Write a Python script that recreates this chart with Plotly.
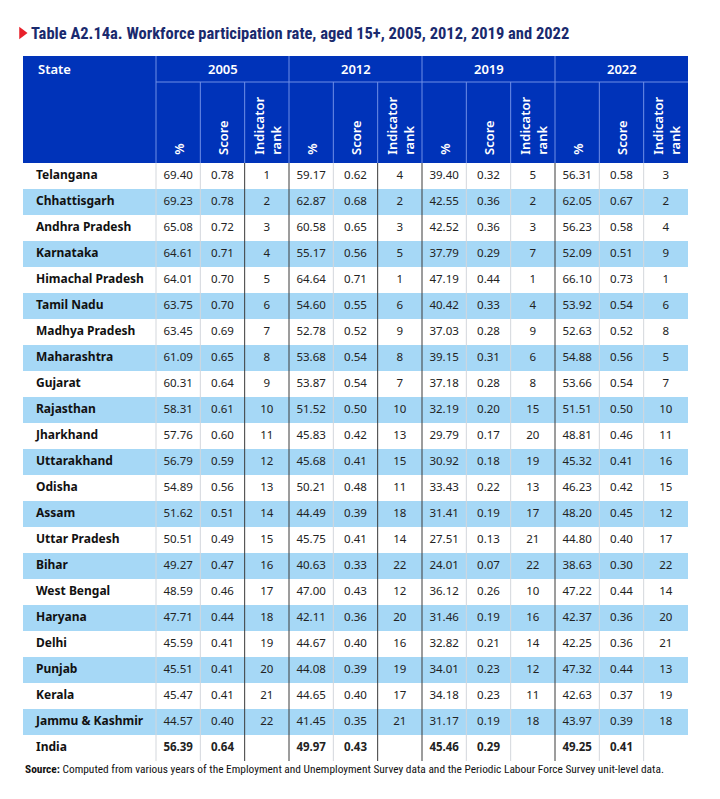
import plotly.graph_objects as go

states = ["Telangana", "Chhattisgarh", "Andhra Pradesh", "Karnataka", "Himachal Pradesh",
          "Tamil Nadu", "Madhya Pradesh", "Maharashtra", "Gujarat", "Rajasthan", "Jharkhand",
          "Uttarakhand", "Odisha", "Assam", "Uttar Pradesh", "Bihar", "West Bengal", "Haryana",
          "Delhi", "Punjab", "Kerala", "Jammu & Kashmir", "India"]

years = ["2005", "2012", "2019", "2022"]

pct_2005 = [69.40, 69.23, 65.08, 64.61, 64.01, 63.75, 63.45, 61.09, 60.31, 58.31, 57.76,
            56.79, 54.89, 51.62, 50.51, 49.27, 48.59, 47.71, 45.59, 45.51, 45.47, 44.57, 56.39]
score_2005 = [0.78, 0.78, 0.72, 0.71, 0.70, 0.70, 0.69, 0.65, 0.64, 0.61, 0.60,
              0.59, 0.56, 0.51, 0.49, 0.47, 0.46, 0.44, 0.41, 0.41, 0.41, 0.40, 0.64]
rank_2005 = [1, 2, 3, 4, 5, 6, 7, 8, 9, 10, 11, 12, 13, 14, 15, 16, 17, 18, 19, 20, 21, 22, None]

pct_2012 = [59.17, 62.87, 60.58, 55.17, 64.64, 54.60, 52.78, 53.68, 53.87, 51.52, 45.83,
            45.68, 50.21, 44.49, 45.75, 40.63, 47.00, 42.11, 44.67, 44.08, 44.65, 41.45, 49.97]
score_2012 = [0.62, 0.68, 0.65, 0.56, 0.71, 0.55, 0.52, 0.54, 0.54, 0.50, 0.42,
              0.41, 0.48, 0.39, 0.41, 0.33, 0.43, 0.36, 0.40, 0.39, 0.40, 0.35, 0.43]
rank_2012 = [4, 2, 3, 5, 1, 6, 9, 8, 7, 10, 13, 15, 11, 18, 14, 22, 12, 20, 16, 19, 17, 21, None]

pct_2019 = [39.40, 42.55, 42.52, 37.79, 47.19, 40.42, 37.03, 39.15, 37.18, 32.19, 29.79,
            30.92, 33.43, 31.41, 27.51, 24.01, 36.12, 31.46, 32.82, 34.01, 34.18, 31.17, 45.46]
score_2019 = [0.32, 0.36, 0.36, 0.29, 0.44, 0.33, 0.28, 0.31, 0.28, 0.20, 0.17,
              0.18, 0.22, 0.19, 0.13, 0.07, 0.26, 0.19, 0.21, 0.23, 0.23, 0.19, 0.29]
rank_2019 = [5, 2, 3, 7, 1, 4, 9, 6, 8, 15, 20, 19, 13, 17, 21, 22, 10, 16, 14, 12, 11, 18, None]

pct_2022 = [56.31, 62.05, 56.23, 52.09, 66.10, 53.92, 52.63, 54.88, 53.66, 51.51, 48.81,
            45.32, 46.23, 48.20, 44.80, 38.63, 47.22, 42.37, 42.25, 47.32, 42.63, 43.97, 49.25]
score_2022 = [0.58, 0.67, 0.58, 0.51, 0.73, 0.54, 0.52, 0.56, 0.54, 0.50, 0.46,
              0.41, 0.42, 0.45, 0.40, 0.30, 0.44, 0.36, 0.36, 0.44, 0.37, 0.39, 0.41]
rank_2022 = [3, 2, 4, 9, 1, 6, 8, 5, 7, 10, 11, 16, 15, 12, 17, 22, 14, 20, 21, 13, 19, 18, None]

sub_headers = ["%", "Score", "Indicator<br>rank"]
title = "Table A2.14a. Workforce participation rate, aged 15+, 2005, 2012, 2019 and 2022"
source = ("<b>Source:</b> Computed from various years of the Employment and Unemployment Survey "
          "data and the Periodic Labour Force Survey unit-level data.")

# layout constants (pixels, page coordinates)
W, H = 720, 799
PAD = 8  # page body margin
X0, X1 = 23, 688
XS = 156  # end of state column
CW = (X1 - XS) / 12
HT, HM, HB = 56, 82, 163
RH = 26
BLUE = "#0033b9"
LIGHT = "#a6d8f6"
FONT = "Noto Sans"
NARROW = "Liberation Sans Narrow, Roboto Condensed, Roboto"

cols = [pct_2005, score_2005, rank_2005, pct_2012, score_2012, rank_2012,
        pct_2019, score_2019, rank_2019, pct_2022, score_2022, rank_2022]

fig = go.Figure()
shapes = []
annotations = []

# header block
shapes.append(dict(type="rect", x0=X0, x1=X1, y0=HT, y1=HB, fillcolor=BLUE, line_width=0, layer="below"))
hl = dict(color="#6f8fe6", width=1)
shapes.append(dict(type="line", x0=XS, x1=X1, y0=HM, y1=HM, line=hl))
for j in range(12):
    x = XS + j * CW
    y0 = HT if j % 3 == 0 else HM
    shapes.append(dict(type="line", x0=x, x1=x, y0=y0, y1=HB, line=hl))

# striped rows
n = len(states)
for i in range(n):
    if i % 2 == 1:
        shapes.append(dict(type="rect", x0=X0, x1=X1, y0=HB + i * RH, y1=HB + (i + 1) * RH,
                           fillcolor=LIGHT, line_width=0, layer="below"))

# vertical rules in body
dark = {2, 3, 5, 6, 9}
for j in range(12):
    x = XS + j * CW
    shapes.append(dict(type="line", x0=x, x1=x, y0=HB, y1=HB + n * RH,
                       line=dict(color="#3a3a3a" if j in dark else "#d3d7dc", width=1)))

# header text
hfont = dict(family=FONT, size=13, color="white", weight=600)
annotations.append(dict(x=36, y=(HT + HM) / 2, text="State", showarrow=False, xanchor="left", font=hfont))
for g, yr in enumerate(years):
    annotations.append(dict(x=XS + (g * 3 + 1.5) * CW, y=(HT + HM) / 2, text=yr,
                            showarrow=False, font=hfont))
    for k, sh in enumerate(sub_headers):
        annotations.append(dict(x=XS + (g * 3 + k + 0.5) * CW, y=HB - 6, text=sh, textangle=-90,
                                showarrow=False, yanchor="bottom", align="left", font=hfont))

# body text
yc = [HB + (i + 0.5) * RH for i in range(n)]
fig.add_trace(go.Scatter(x=[36] * n, y=yc, mode="text", text=["<b>" + s + "</b>" for s in states],
                         textposition="middle right", textfont=dict(family=FONT, size=12, color="#111"),
                         hoverinfo="skip"))
for j, vals in enumerate(cols):
    if j % 3 == 2:
        txt = ["" if v is None else str(v) for v in vals]
    else:
        txt = ["%.2f" % v for v in vals]
    txt[-1] = "<b>" + txt[-1] + "</b>" if txt[-1] else ""
    fig.add_trace(go.Scatter(x=[XS + (j + 0.5) * CW] * n, y=yc, mode="text", text=txt,
                             textposition="middle center",
                             textfont=dict(family=FONT, size=11.5, color="#222"), hoverinfo="skip"))

# title with red marker
fig.add_trace(go.Scatter(x=[22], y=[33], mode="markers", hoverinfo="skip",
                         marker=dict(symbol="triangle-right", size=11, color="#e8202a")))
annotations.append(dict(x=29, y=33, text="<b>" + title + "</b>", showarrow=False, xanchor="left",
                        font=dict(family=NARROW, size=16.5, color="#1a2a6e")))
annotations.append(dict(x=X0, y=HB + n * RH + 8, text=source, showarrow=False, xanchor="left",
                        font=dict(family=NARROW, size=11.4, color="#111")))

# the page body adds PAD px, so shift the axis window to keep page coordinates
ax = dict(visible=False, fixedrange=True)
fig.update_layout(width=W - 2 * PAD, height=H - 2 * PAD, margin=dict(l=0, r=0, t=0, b=0),
                  xaxis=dict(range=[PAD, W - PAD], **ax), yaxis=dict(range=[H - PAD, PAD], **ax),
                  plot_bgcolor="white", paper_bgcolor="white", showlegend=False,
                  shapes=shapes, annotations=annotations)
fig.write_html("out.html")
